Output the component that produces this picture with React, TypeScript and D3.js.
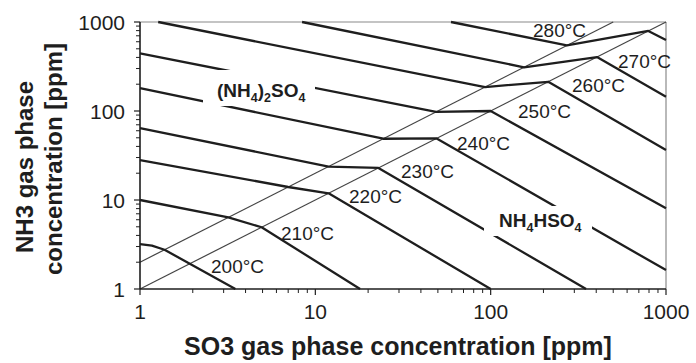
import React from "react";
import * as d3 from "d3";

const W = 696;
const H = 363;

// Axis ticks (ppm)
const xTicks = [1, 10, 100, 1000];
const yTicks = [1, 10, 100, 1000];

// Isotherm vertices: [SO3 ppm, NH3 ppm]
const iso200: [number, number][] = [[1, 3.2], [1.17, 3.07], [1.38, 2.76], [3.5, 1]];
const iso210: [number, number][] = [[1, 10], [3.19, 6.38], [4.94, 4.94], [18, 1]];
const iso220: [number, number][] = [[1, 28.1], [7.0, 14.0], [11.9, 11.9], [100, 1]];
const iso230: [number, number][] = [[1, 64.4], [11.9, 23.7], [22.9, 22.9], [350, 1]];
const iso240: [number, number][] = [[1, 181], [24.4, 48.8], [49.2, 49.2], [1000, 1.63]];
const iso250: [number, number][] = [[1, 445], [48.8, 97.6], [100, 100], [1000, 8.07]];
const iso260: [number, number][] = [[1.27, 1000], [92.9, 185.8], [213, 213], [1000, 36.5]];
const iso270: [number, number][] = [[8.4, 1000], [155, 310], [404, 404], [1000, 145]];
const iso280: [number, number][] = [[59.4, 1000], [272, 545], [793, 793], [1000, 628]];

const isotherms = [iso200, iso210, iso220, iso230, iso240, iso250, iso260, iso270, iso280];
const tempNames = ["200°C", "210°C", "220°C", "230°C", "240°C", "250°C", "260°C", "270°C", "280°C"];

// Reference ratio lines NH3 = SO3 and NH3 = 2·SO3
const ratio1: [number, number][] = [[1, 1], [1000, 1000]];
const ratio2: [number, number][] = [[1, 2], [500, 1000]];

// Label placement (left x, baseline y) in pixels
const tempLabelPos: [number, number][] = [
  [211, 273], [281, 240], [349, 203], [401, 178], [457, 150],
  [518, 118], [572, 92], [618, 68], [533, 37],
];

export default function App() {
  const x = d3.scaleLog().domain([1, 1000]).range([140, 666]);
  const y = d3.scaleLog().domain([1, 1000]).range([289, 22]);
  const line = d3
    .line<[number, number]>()
    .x((d) => x(d[0]))
    .y((d) => y(d[1]));

  const minor: number[] = [];
  for (const base of [1, 10, 100]) {
    for (let k = 2; k <= 9; k++) minor.push(base * k);
  }

  const font = "'Liberation Sans', Arial, Helvetica, sans-serif";
  const ink = "#1e1e1e";

  return (
    <svg
      width={W}
      height={H}
      style={{ position: "absolute", left: 0, top: 0, background: "#fff" }}
      fontFamily={font}
    >
      <rect x={0} y={0} width={W} height={H} fill="#fff" />

      {/* frame: top and right */}
      <line x1={x(1)} x2={x(1000)} y1={y(1000)} y2={y(1000)} stroke="#8a8a8a" strokeWidth={1.2} />
      <line x1={x(1000)} x2={x(1000)} y1={y(1)} y2={y(1000)} stroke="#8a8a8a" strokeWidth={1.2} />

      {/* ratio lines */}
      {[ratio1, ratio2].map((d, i) => (
        <path key={"r" + i} d={line(d) || ""} fill="none" stroke="#444" strokeWidth={1.2} />
      ))}

      {/* isotherms */}
      {isotherms.map((d, i) => (
        <path
          key={"iso" + i}
          d={line(d) || ""}
          fill="none"
          stroke={ink}
          strokeWidth={2.3}
          strokeLinejoin="round"
        />
      ))}

      {/* region labels with white backing */}
      <rect x={203} y={70} width={112} height={36} fill="#fff" />
      <text x={217} y={97} fontSize={19} fontWeight="bold" fill={ink}>
        (NH<tspan dy={5} fontSize={12.5}>4</tspan>
        <tspan dy={-5}>)</tspan>
        <tspan dy={5} fontSize={12.5}>2</tspan>
        <tspan dy={-5}>SO</tspan>
        <tspan dy={5} fontSize={12.5}>4</tspan>
      </text>

      <rect x={484} y={206} width={108} height={30} fill="#fff" />
      <text x={499} y={227} fontSize={19} fontWeight="bold" fill={ink}>
        NH<tspan dy={5} fontSize={12.5}>4</tspan>
        <tspan dy={-5}>HSO</tspan>
        <tspan dy={5} fontSize={12.5}>4</tspan>
      </text>

      {/* temperature labels */}
      {tempNames.map((t, i) => (
        <text key={t} x={tempLabelPos[i][0]} y={tempLabelPos[i][1]} fontSize={19} fill={ink}>
          {t}
        </text>
      ))}

      {/* axes: left and bottom */}
      <line x1={x(1)} x2={x(1)} y1={y(1)} y2={y(1000)} stroke={ink} strokeWidth={1.6} />
      <line x1={x(1)} x2={x(1000)} y1={y(1)} y2={y(1)} stroke={ink} strokeWidth={1.6} />

      {/* x ticks */}
      {xTicks.map((v) => (
        <g key={"xt" + v}>
          <line x1={x(v)} x2={x(v)} y1={y(1)} y2={y(1) + 6} stroke={ink} strokeWidth={1.2} />
          <text x={x(v)} y={319} fontSize={21} textAnchor="middle" fill={ink}>
            {v}
          </text>
        </g>
      ))}
      {minor.map((v) => (
        <line key={"xm" + v} x1={x(v)} x2={x(v)} y1={y(1)} y2={y(1) + 4} stroke={ink} strokeWidth={1} />
      ))}

      {/* y ticks */}
      {yTicks.map((v) => (
        <g key={"yt" + v}>
          <line x1={x(1) - 6} x2={x(1)} y1={y(v)} y2={y(v)} stroke={ink} strokeWidth={1.2} />
          <text x={125} y={y(v)} dy="0.36em" fontSize={21} textAnchor="end" fill={ink}>
            {v}
          </text>
        </g>
      ))}
      {minor.map((v) => (
        <line key={"ym" + v} x1={x(1) - 4} x2={x(1)} y1={y(v)} y2={y(v)} stroke={ink} strokeWidth={1} />
      ))}

      {/* axis titles */}
      <text x={398} y={355} fontSize={25} fontWeight="bold" textAnchor="middle" fill={ink}>
        SO3 gas phase concentration [ppm]
      </text>
      <text
        transform="translate(33,167) rotate(-90)"
        fontSize={24}
        fontWeight="bold"
        textAnchor="middle"
        fill={ink}
      >
        NH3 gas phase
      </text>
      <text
        transform="translate(62,159) rotate(-90)"
        fontSize={24}
        fontWeight="bold"
        textAnchor="middle"
        fill={ink}
      >
        concentration [ppm]
      </text>
    </svg>
  );
}
